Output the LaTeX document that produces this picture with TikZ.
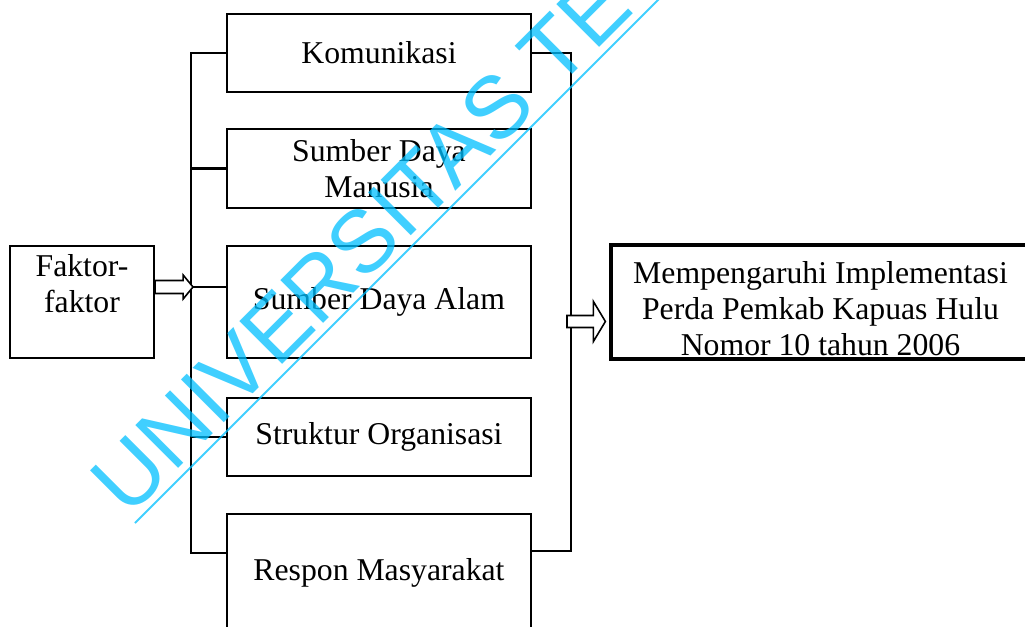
\documentclass[tikz,border=0pt]{standalone}
\usepackage{fontspec}
\setmainfont{Liberation Serif}
\newfontfamily\wmfamily{Liberation Sans}
\usetikzlibrary{calc}
\definecolor{wmcyan}{RGB}{0,191,255}
\newcommand\bxt[4]{\begin{minipage}[c][#2][#3]{#1}\centering #4\end{minipage}}
\begin{document}
\begin{tikzpicture}[x=0.75pt,y=-0.75pt,
  box/.style={draw=black, line width=1.7pt, inner sep=0pt, fill=white,
    font=\fontsize{23.8pt}{27pt}\selectfont},
  resbox/.style={box, line width=2.4pt},
  conn/.style={draw=black, line width=2pt, line cap=rect},
  blockarrow/.style={draw=black, fill=white, line width=1.2pt, line join=miter},
  wmtext/.style={rotate=45, anchor=base west, inner sep=0pt, text=wmcyan, text opacity=0.75,
    font=\wmfamily\fontsize{66pt}{66pt}\selectfont},
  wmline/.style={draw=wmcyan, opacity=0.75, line width=1.5pt}]
\useasboundingbox (0,0) rectangle (1025,626);
\clip (0,0) rectangle (1025,626);

% boxes
\node[box] (fk) at (82,302) {\bxt{108pt}{84pt}{t}{\vspace*{6.5pt}Faktor-\\faktor}};
\node[box] (kom) at (379,53) {\bxt{228pt}{58.5pt}{c}{Komunikasi}};
\node[box] (sdm) at (379,168.5) {\bxt{228pt}{59.25pt}{c}{Sumber Daya\\Manusia}};
\node[box] (sda) at (379,302) {\bxt{228pt}{84pt}{c}{Sumber Daya Alam}};
\node[box] (str) at (379,437) {\bxt{228pt}{58.5pt}{c}{Struktur Organisasi}};
\node[box] (resp) at (379,573) {\bxt{228pt}{88.5pt}{c}{Respon Masyarakat}};
\node[resbox] (res) at (820.5,302) {\bxt{314.25pt}{85.5pt}{t}{\vspace*{12pt}Mempengaruhi Implementasi\\Perda Pemkab Kapuas Hulu\\Nomor 10 tahun 2006}};

% bar coordinates
\coordinate (ltop) at (191,53);
\coordinate (lbot) at (191,553);
\coordinate (lsda) at (191,287);
\coordinate (rtop) at (571,53);
\coordinate (rbot) at (571,551);

% left bar and branches
\draw[conn] (kom.west) -- (ltop) -- (lbot) -- (lbot -| resp.west);
\draw[conn] (sdm.west) -- (sdm.west -| ltop);
\draw[conn] (lsda) -- (lsda -| sda.west);
\draw[conn] (str.west) -- (str.west -| ltop);

% right bar
\draw[conn] (kom.east) -- (rtop) -- (rbot) -- (rbot -| resp.east);

% block arrow from Faktor-faktor to left bar
\coordinate (fa) at ($(fk.east)+(0,-15)$);
\draw[blockarrow] ($(fa)+(0,-6.5)$) -- ++(28,0) -- ++(0,-5.5) -- ($(lsda)+(2,0)$)
  -- ($(fa)+(28,12)$) -- ++(0,-5.5) -- ($(fa)+(0,6.5)$) -- cycle;

% block arrow from right bar to result box
\coordinate (ra) at ($(rtop |- res.west)+(-4,19.5)$);
\coordinate (rt) at ($(res.west)+(-4,19.5)$);
\draw[blockarrow] ($(ra)+(0,-6)$) -- ($(rt)+(-12,-6)$) -- ($(rt)+(-12,-20)$) -- (rt)
  -- ($(rt)+(-12,20)$) -- ($(rt)+(-12,6)$) -- ($(ra)+(0,6)$) -- cycle;

% watermark
\node[wmtext] (wm) at (128.5,518.5) {UNIVERSITAS TE};
\coordinate (u1) at (135,523);
\coordinate (u2) at (668,-10);
\draw[wmline] (u1) -- (u2);
\end{tikzpicture}
\end{document}
